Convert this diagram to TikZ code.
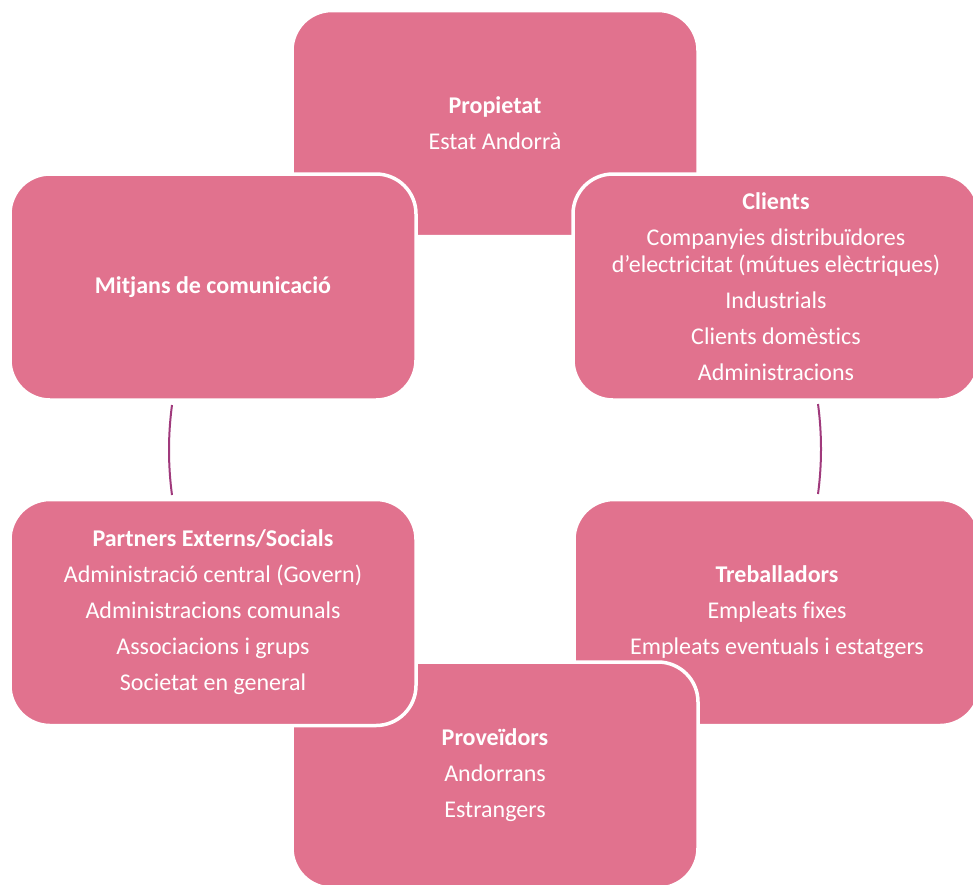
\documentclass[tikz,border=0pt]{standalone}
\usepackage{fontspec}
\setmainfont{Carlito}[Ligatures=NoCommon]
\definecolor{boxpink}{RGB}{225,114,142}
\definecolor{arcpurple}{RGB}{160,58,124}
\begin{document}
\begin{tikzpicture}[x=1pt,y=-1pt,
  card/.style={draw=white, line width=3.5pt, fill=boxpink, rounded corners=40pt,
    minimum width=406pt, minimum height=226pt, inner sep=0pt, text=white,
    align=center, font=\fontsize{24}{27}\selectfont},
  link/.style={draw=arcpurple, line width=2pt}]
\clip (0,0) rectangle (973,884);
\node[card] (prop) at (495,123.5) {\textbf{Propietat}\\[9pt]Estat Andorrà};
\node[card] (clients) at (776,287) {\textbf{Clients}\\[9pt]Companyies distribuïdores\\d’electricitat (mútues elèctriques)\\[9pt]Industrials\\[9pt]Clients domèstics\\[9pt]Administracions};
\node[card] (treb) at (777,612.5) {\textbf{Treballadors}\\[9pt]Empleats fixes\\[9pt]Empleats eventuals i estatgers};
\node[card] (prov) at (495,775) {\textbf{Proveïdors}\\[9pt]Andorrans\\[9pt]Estrangers};
\node[card] (part) at (213,612.5) {\textbf{Partners Externs/Socials}\\[9pt]Administració central (Govern)\\[9pt]Administracions comunals\\[9pt]Associacions i grups\\[9pt]Societat en general};
\node[card] (mitj) at (213,287) {\textbf{Mitjans de comunicació}};
\coordinate (la) at (172,405);
\coordinate (lb) at (172,495);
\coordinate (ra) at (818,404);
\coordinate (rb) at (818,494);
\draw[link] (la) .. controls (168,435) and (168,465) .. (lb);
\draw[link] (ra) .. controls (822,434) and (822,464) .. (rb);
\end{tikzpicture}
\end{document}
